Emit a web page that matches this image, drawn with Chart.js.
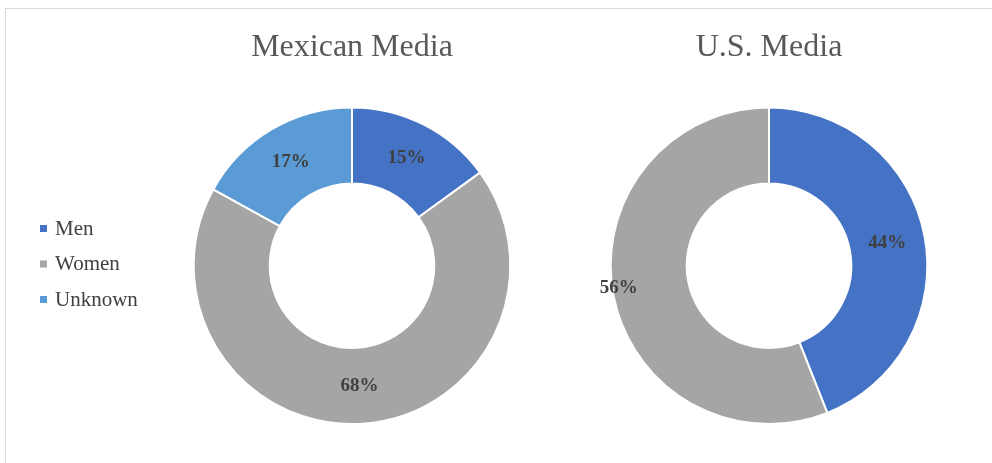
<!DOCTYPE html>
<html>
<head>
<meta charset="utf-8">
<script src="https://cdn.jsdelivr.net/npm/chart.js@4.4.0/dist/chart.umd.min.js"></script>
<style>
  html, body { margin: 0; padding: 0; background: #fff; }
  #frame {
    position: absolute; left: 5px; top: 8px; width: 1000px; height: 470px;
    border-top: 1px solid #d9d9d9; border-left: 1px solid #d9d9d9;
  }
  .wrap { position: absolute; top: 0; height: 430px; }
</style>
</head>
<body>
<div id="frame"></div>
<div class="wrap" style="left:20px; width:502px"><canvas id="mexChart"></canvas></div>
<div class="wrap" style="left:599px; width:340px"><canvas id="usChart"></canvas></div>
<script>
const categorias = ['Men', 'Women', 'Unknown'];
const colores = ['#4472C4', '#A5A5A5', '#5B9BD5'];
const mexicoValores = [15, 68, 17];
const usaValores = [44, 56, 0];
const titulos = ['Mexican Media', 'U.S. Media'];

const fuenteSerif = '"Liberation Serif", "Times New Roman", serif';

// etiquetas de porcentaje dentro de cada segmento
const etiquetasPlugin = {
    id: 'etiquetas',
    afterDatasetsDraw(chart, args, opts) {
        const ctx = chart.ctx;
        const meta = chart.getDatasetMeta(0);
        const datos = chart.data.datasets[0].data;
        const desplaza = opts.desplazamiento || {};
        ctx.save();
        ctx.font = 'bold 19px ' + fuenteSerif;
        ctx.fillStyle = '#404040';
        ctx.textAlign = 'center';
        ctx.textBaseline = 'middle';
        meta.data.forEach(function(arc, i) {
            if (!datos[i]) return;
            const pos = arc.tooltipPosition();
            const dx = desplaza[i] || 0;
            ctx.fillText(datos[i] + '%', pos.x + dx, pos.y);
        });
        ctx.restore();
    }
};

// leyenda dibujada a la izquierda de la primera dona
const leyendaPlugin = {
    id: 'leyendaIzq',
    afterDraw(chart, args, opts) {
        if (!opts.mostrar) return;
        const ctx = chart.ctx;
        ctx.save();
        ctx.font = '21px ' + fuenteSerif;
        ctx.textBaseline = 'middle';
        ctx.textAlign = 'left';
        categorias.forEach(function(cat, i) {
            const y = opts.y + i * opts.paso;
            ctx.fillStyle = colores[i];
            ctx.fillRect(opts.x, y - 4, 7, 7);
            ctx.fillStyle = '#404040';
            ctx.fillText(cat, opts.x + 15, y);
        });
        ctx.restore();
    }
};

function crearDona(id, titulo, valores, extra) {
    const ctx = document.getElementById(id).getContext('2d');
    return new Chart(ctx, {
        type: 'doughnut',
        data: {
            labels: categorias,
            datasets: [{
                data: valores,
                backgroundColor: colores,
                borderColor: '#ffffff',
                borderWidth: 2
            }]
        },
        options: {
            responsive: true,
            maintainAspectRatio: false,
            animation: false,
            cutout: '52%',
            layout: { padding: { bottom: 5, left: extra.izquierda } },
            plugins: {
                legend: { display: false },
                tooltip: { enabled: false },
                title: {
                    display: true,
                    text: titulo,
                    color: '#595959',
                    font: { family: fuenteSerif, size: 32, weight: 'normal' },
                    padding: { top: 28, bottom: 40 }
                },
                etiquetas: { desplazamiento: extra.desplazamiento },
                leyendaIzq: { mostrar: extra.leyenda, x: 20, y: 229, paso: 35.5 }
            }
        },
        plugins: [etiquetasPlugin, leyendaPlugin]
    });
}

crearDona('mexChart', titulos[0], mexicoValores, { izquierda: 162, leyenda: true });
crearDona('usChart', titulos[1], usaValores, { izquierda: 0, leyenda: false, desplazamiento: { 1: -32 } });
</script>
</body>
</html>
